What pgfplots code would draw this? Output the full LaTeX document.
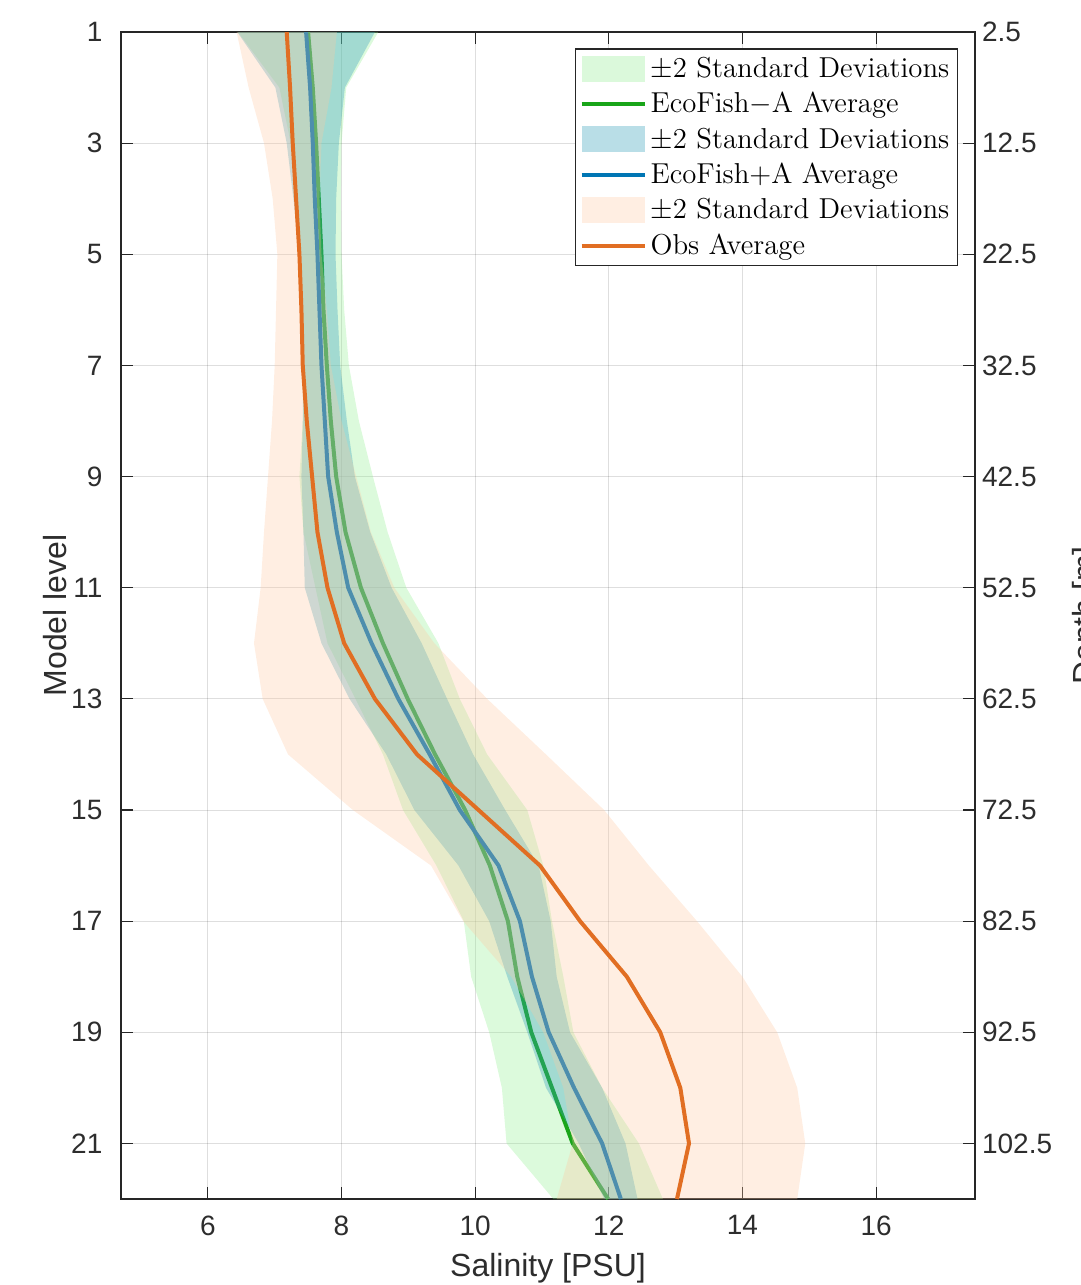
\documentclass[border=0pt]{standalone}
\usepackage{fontspec}
\usepackage{pgfplots}
\pgfplotsset{compat=1.18}
\usepackage{pgfplotstable}
\newfontfamily\arialf{Liberation Sans}

\definecolor{gline}{RGB}{25,165,25}
\definecolor{bline}{RGB}{0,118,180}
\definecolor{oline}{RGB}{225,110,35}
\definecolor{gfill}{RGB}{138,238,138}
\definecolor{bfill}{RGB}{55,161,189}
\definecolor{ofill}{RGB}{255,200,160}
\definecolor{axgray}{RGB}{38,38,38}
\definecolor{txtgray}{RGB}{45,45,45}

% columns: level, mean, half-width (2 sigma), side
\pgfplotstableread{
l m h s
1 7.50 1.05 1
2 7.57 0.50 1
3 7.62 0.38 1
4 7.66 0.33 1
5 7.70 0.30 1
6 7.73 0.31 1
7 7.78 0.33 1
8 7.84 0.42 1
9 7.92 0.55 1
10 8.06 0.63 1
11 8.29 0.68 1
12 8.62 0.83 1
13 8.99 0.78 1
14 9.40 0.78 1
15 9.85 0.93 1
16 10.22 0.80 1
17 10.49 0.66 1
18 10.63 0.69 1
19 10.84 0.63 1
20 11.15 0.75 1
21 11.46 0.99 1
22 11.99 0.82 1
22 11.99 0.82 -1
21 11.46 0.99 -1
20 11.15 0.75 -1
19 10.84 0.63 -1
18 10.63 0.69 -1
17 10.49 0.66 -1
16 10.22 0.80 -1
15 9.85 0.93 -1
14 9.40 0.78 -1
13 8.99 0.78 -1
12 8.62 0.83 -1
11 8.29 0.68 -1
10 8.06 0.63 -1
9 7.92 0.55 -1
8 7.84 0.42 -1
7 7.78 0.33 -1
6 7.73 0.31 -1
5 7.70 0.30 -1
4 7.66 0.33 -1
3 7.62 0.38 -1
2 7.57 0.50 -1
1 7.50 1.05 -1
}\tabG

\pgfplotstableread{
l m h s
1 7.47 1.03 1
2 7.53 0.52 1
3 7.57 0.39 1
4 7.60 0.32 1
5 7.64 0.27 1
6 7.67 0.27 1
7 7.70 0.28 1
8 7.75 0.33 1
9 7.80 0.40 1
10 7.93 0.50 1
11 8.10 0.65 1
12 8.45 0.75 1
13 8.85 0.73 1
14 9.32 0.65 1
15 9.77 0.68 1
16 10.35 0.60 1
17 10.67 0.46 1
18 10.85 0.37 1
19 11.10 0.32 1
20 11.48 0.42 1
21 11.90 0.35 1
22 12.18 0.25 1
22 12.18 0.25 -1
21 11.90 0.35 -1
20 11.48 0.42 -1
19 11.10 0.32 -1
18 10.85 0.37 -1
17 10.67 0.46 -1
16 10.35 0.60 -1
15 9.77 0.68 -1
14 9.32 0.65 -1
13 8.85 0.73 -1
12 8.45 0.75 -1
11 8.10 0.65 -1
10 7.93 0.50 -1
9 7.80 0.40 -1
8 7.75 0.33 -1
7 7.70 0.28 -1
6 7.67 0.27 -1
5 7.64 0.27 -1
4 7.60 0.32 -1
3 7.57 0.39 -1
2 7.53 0.52 -1
1 7.47 1.03 -1
}\tabB

\pgfplotstableread{
l m h s
1 7.18 0.75 1
2 7.23 0.62 1
3 7.27 0.43 1
4 7.32 0.35 1
5 7.37 0.33 1
6 7.40 0.38 1
7 7.42 0.42 1
8 7.48 0.52 1
9 7.56 0.66 1
10 7.64 0.80 1
11 7.79 1.00 1
12 8.04 1.35 1
13 8.50 1.68 1
14 9.13 1.93 1
15 10.05 1.88 1
16 10.97 1.63 1
17 11.57 1.75 1
18 12.27 1.73 1
19 12.77 1.75 1
20 13.07 1.75 1
21 13.20 1.74 1
22 13.02 1.80 1
22 13.02 1.80 -1
21 13.20 1.74 -1
20 13.07 1.75 -1
19 12.77 1.75 -1
18 12.27 1.73 -1
17 11.57 1.75 -1
16 10.97 1.63 -1
15 10.05 1.88 -1
14 9.13 1.93 -1
13 8.50 1.68 -1
12 8.04 1.35 -1
11 7.79 1.00 -1
10 7.64 0.80 -1
9 7.56 0.66 -1
8 7.48 0.52 -1
7 7.42 0.42 -1
6 7.40 0.38 -1
5 7.37 0.33 -1
4 7.32 0.35 -1
3 7.27 0.43 -1
2 7.23 0.62 -1
1 7.18 0.75 -1
}\tabO

\pgfplotsset{
  bandstyle/.style={draw=none,
    legend image code/.code={\fill[##1] (0pt,-6.5pt) rectangle (31.5pt,6.5pt);}},
  linestyle/.style={line width=2pt, mark=none, skip coords between index={22}{44},
    legend image code/.code={\draw[##1] (0pt,0pt) -- (31.5pt,0pt);}},
}

\begin{document}
\begin{tikzpicture}
\begin{axis}[
  at={(60.5pt,43pt)}, anchor=south west,
  scale only axis, width=427pt, height=583.5pt,
  xmin=4.7, xmax=17.48, ymin=1, ymax=22, y dir=reverse,
  xtick={6,8,...,16}, ytick={1,3,...,21},
  xtick pos=both, ytick pos=left,
  tick align=inside,
  major tick length=6pt,
  grid=major,
  major grid style={line width=0.5pt, draw=black, draw opacity=0.13},
  axis line style={line width=0.6pt, draw=axgray},
  every tick/.style={line width=0.6pt, draw=axgray},
  tick label style={font=\arialf\fontsize{14}{16}\selectfont, text=txtgray},
  /pgf/number format/assume math mode=true,
  xticklabel style={yshift=-4.8pt},
  yticklabel style={xshift=-5.8pt},
  xlabel={Salinity [PSU]}, ylabel={Model level},
  every axis x label/.style={at={(axis description cs:0.5,-0.0591)}, anchor=center,
    font=\arialf\fontsize{16}{18}\selectfont, text=txtgray},
  every axis y label/.style={at={(axis description cs:-0.0773,0.5)}, rotate=90, anchor=center,
    font=\arialf\fontsize{16}{18}\selectfont, text=txtgray},
  legend style={at={(0.980,0.986)}, anchor=north east, draw=axgray, line width=0.6pt,
    fill=white, font=\fontsize{14.4}{17}\selectfont, inner xsep=2pt, inner ysep=2pt, row sep=2pt},
  legend cell align=left,
]
\addplot[bandstyle, fill=gfill, fill opacity=0.3] table[x expr=\thisrow{m}+\thisrow{s}*\thisrow{h}, y=l] {\tabG};
\addlegendentry{$\pm$2 Standard Deviations}
\addplot[linestyle, gline] table[x=m, y=l] {\tabG};
\addlegendentry{EcoFish$-$A Average}
\addplot[bandstyle, fill=bfill, fill opacity=0.35] table[x expr=\thisrow{m}+\thisrow{s}*\thisrow{h}, y=l] {\tabB};
\addlegendentry{$\pm$2 Standard Deviations}
\addplot[linestyle, bline] table[x=m, y=l] {\tabB};
\addlegendentry{EcoFish+A Average}
\addplot[bandstyle, fill=ofill, fill opacity=0.3] table[x expr=\thisrow{m}+\thisrow{s}*\thisrow{h}, y=l] {\tabO};
\addlegendentry{$\pm$2 Standard Deviations}
\addplot[linestyle, oline] table[x=m, y=l] {\tabO};
\addlegendentry{Obs Average}
\end{axis}
\begin{axis}[
  at={(60.5pt,43pt)}, anchor=south west,
  scale only axis, width=427pt, height=583.5pt,
  xmin=4.7, xmax=17.48, ymin=1, ymax=22, y dir=reverse,
  axis x line=none, axis y line*=right,
  ytick={1,3,...,21},
  yticklabels={2.5,12.5,22.5,32.5,42.5,52.5,62.5,72.5,82.5,92.5,102.5},
  tick align=inside, major tick length=6pt,
  axis line style={line width=0.6pt, draw=axgray},
  every tick/.style={line width=0.6pt, draw=axgray},
  tick label style={font=\arialf\fontsize{14}{16}\selectfont, text=txtgray},
  ylabel={Depth [m]},
  every axis y label/.style={at={(axis description cs:1.1136,0.5)}, rotate=90, anchor=north,
    inner sep=0pt, font=\arialf\fontsize{16}{18}\selectfont, text=txtgray},
]
\end{axis}
\pgfresetboundingbox
\useasboundingbox (0,0) rectangle (540.5pt,642.5pt);
\end{tikzpicture}
\end{document}
